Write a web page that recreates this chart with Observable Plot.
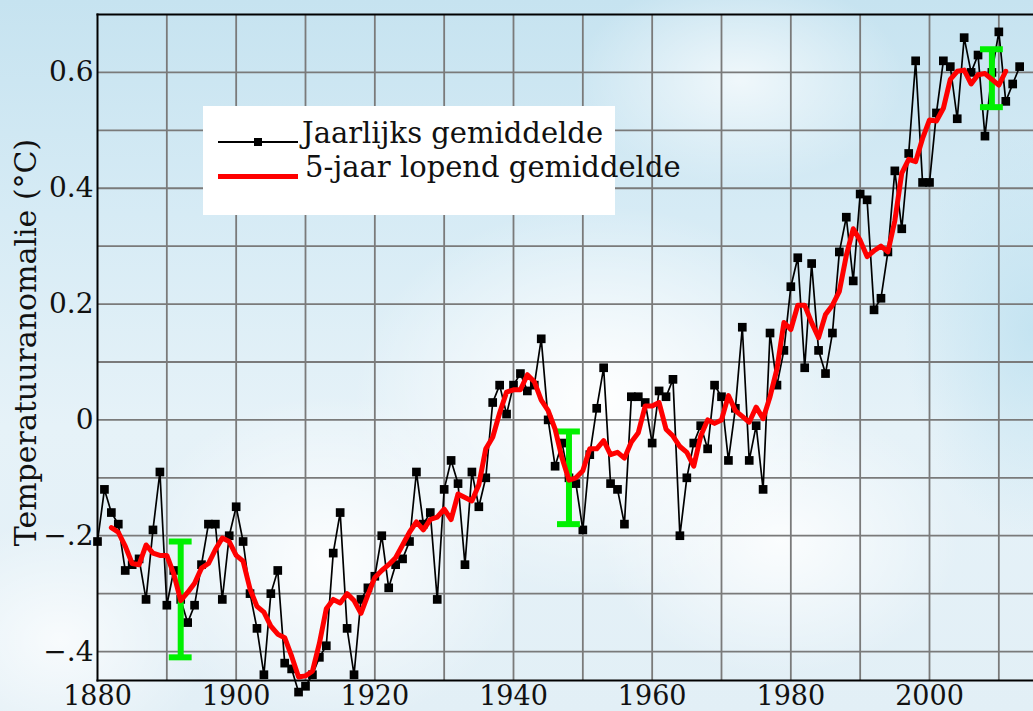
<!DOCTYPE html>
<html><head><meta charset="utf-8">
<script src="https://cdn.jsdelivr.net/npm/d3@7"></script>
<script src="https://cdn.jsdelivr.net/npm/@observablehq/plot@0.6"></script>
<style>
html,body{margin:0;padding:0;}
#wrap{position:relative;width:1033px;height:711px;overflow:hidden;
 background:
  radial-gradient(ellipse 330px 260px at 600px 400px, rgba(255,255,255,0.97), rgba(255,255,255,0) 75%),
  radial-gradient(ellipse 260px 220px at 330px 560px, rgba(255,255,255,0.9), rgba(255,255,255,0) 75%),
  radial-gradient(ellipse 200px 160px at 60px 640px, rgba(255,255,255,0.75), rgba(255,255,255,0) 75%),
  radial-gradient(ellipse 240px 180px at 780px 540px, rgba(255,255,255,0.85), rgba(255,255,255,0) 75%),
  radial-gradient(ellipse 220px 140px at 740px 80px, rgba(255,255,255,0.7), rgba(255,255,255,0) 75%),
  radial-gradient(ellipse 160px 260px at 1033px 330px, rgba(190,225,240,0.8), rgba(190,225,240,0) 80%),
  linear-gradient(180deg, #c6e3f0 0%, #d6ebf5 30%, #e6f2f8 60%, #e2eff6 100%);}
#chart{position:absolute;left:0;top:0;}
#legend{position:absolute;left:203px;top:106px;overflow:visible;}
</style></head><body>
<div id="wrap"><div id="chart"></div>
<svg id="legend" width="500" height="109" font-family="DejaVu Serif">
  <rect x="0" y="0" width="412" height="109" fill="#fff"/>
  <line x1="15" x2="95" y1="36" y2="36" stroke="#000" stroke-width="1.8"/>
  <rect x="51" y="32" width="8" height="8" fill="#000"/>
  <text x="99" y="37" font-size="29" fill="#111">Jaarlijks gemiddelde</text>
  <line x1="15" x2="95" y1="70.5" y2="70.5" stroke="#ff0000" stroke-width="5"/>
  <text x="102" y="71" font-size="29" fill="#111">5-jaar lopend gemiddelde</text>
</svg>
</div>
<script>
const years = [1880,1881,1882,1883,1884,1885,1886,1887,1888,1889,
1890,1891,1892,1893,1894,1895,1896,1897,1898,1899,
1900,1901,1902,1903,1904,1905,1906,1907,1908,1909,
1910,1911,1912,1913,1914,1915,1916,1917,1918,1919,
1920,1921,1922,1923,1924,1925,1926,1927,1928,1929,
1930,1931,1932,1933,1934,1935,1936,1937,1938,1939,
1940,1941,1942,1943,1944,1945,1946,1947,1948,1949,
1950,1951,1952,1953,1954,1955,1956,1957,1958,1959,
1960,1961,1962,1963,1964,1965,1966,1967,1968,1969,
1970,1971,1972,1973,1974,1975,1976,1977,1978,1979,
1980,1981,1982,1983,1984,1985,1986,1987,1988,1989,
1990,1991,1992,1993,1994,1995,1996,1997,1998,1999,
2000,2001,2002,2003,2004,2005,2006,2007,2008,2009,
2010,2011,2012,2013];
const anomalies = [-0.21,-0.12,-0.16,-0.18,-0.26,-0.25,-0.24,-0.31,-0.19,-0.09,
-0.32,-0.26,-0.31,-0.35,-0.32,-0.25,-0.18,-0.18,-0.31,-0.20,
-0.15,-0.21,-0.30,-0.36,-0.44,-0.30,-0.26,-0.42,-0.43,-0.47,
-0.46,-0.44,-0.41,-0.39,-0.23,-0.16,-0.36,-0.44,-0.31,-0.29,
-0.27,-0.20,-0.29,-0.25,-0.24,-0.21,-0.09,-0.18,-0.16,-0.31,
-0.12,-0.07,-0.11,-0.25,-0.09,-0.15,-0.10,0.03,0.06,0.01,
0.06,0.08,0.05,0.06,0.14,0.00,-0.08,-0.04,-0.10,-0.11,
-0.19,-0.06,0.02,0.09,-0.11,-0.12,-0.18,0.04,0.04,0.03,
-0.04,0.05,0.04,0.07,-0.20,-0.10,-0.04,-0.01,-0.05,0.06,
0.04,-0.07,0.02,0.16,-0.07,-0.01,-0.12,0.15,0.06,0.12,
0.23,0.28,0.09,0.27,0.12,0.08,0.15,0.29,0.35,0.24,
0.39,0.38,0.19,0.21,0.29,0.43,0.33,0.46,0.62,0.41,
0.41,0.53,0.62,0.61,0.52,0.66,0.60,0.63,0.49,0.60,
0.67,0.55,0.58,0.61];
const errYears = [1892, 1948, 2009];
const errLow = [-0.41, -0.18, 0.54];
const errHigh = [-0.21, -0.02, 0.64];
const xTicks = [1880,1900,1920,1940,1960,1980,2000];
const xGrid = [1890,1900,1910,1920,1930,1940,1950,1960,1970,1980,1990,2000,2010];
const yTicks = [-0.4,-0.2,0,0.2,0.4,0.6];
const yTickLabels = ["\u2212.4","\u2212.2","0","0.2","0.4","0.6"];
const yGrid = [-0.4,-0.3,-0.2,-0.1,0,0.1,0.2,0.3,0.4,0.5,0.6];
const yLabel = "Temperatuuranomalie (°C)";

const data = years.map((year, i) => ({year, value: anomalies[i]}));
const errs = errYears.map((year, i) => ({year, lo: errLow[i], hi: errHigh[i]}));
const capHalf = 1.65;

const chart = Plot.plot({
  width: 1033, height: 711,
  marginLeft: 97, marginRight: 0, marginTop: 14, marginBottom: 31,
  style: {background: "transparent", fontFamily: "DejaVu Serif", fontSize: "27px", color: "#111", overflow: "visible"},
  x: {domain: [1880, 2015], label: null, axis: null},
  y: {domain: [-0.45, 0.7], label: null, axis: null},
  marks: [
    Plot.gridX(xGrid, {stroke: "#7a7a7a", strokeOpacity: 1, strokeWidth: 1.8}),
    Plot.gridY(yGrid, {stroke: "#7a7a7a", strokeOpacity: 1, strokeWidth: 1.8}),
    Plot.frame({anchor: "left", stroke: "#000", strokeWidth: 2}),
    Plot.frame({anchor: "top", stroke: "#000", strokeWidth: 2}),
    Plot.frame({anchor: "bottom", stroke: "#000", strokeWidth: 2}),
    Plot.axisX(xTicks, {tickFormat: d => String(d), tickSize: 0, tickPadding: 5, fontSize: 27, label: null}),
    Plot.axisY(yTicks, {tickFormat: d => yTickLabels[yTicks.indexOf(d)], tickSize: 0, tickPadding: 4, fontSize: 28, label: null}),
    Plot.text([yLabel], {text: d => d, frameAnchor: "left", textAnchor: "middle", rotate: -90, dx: -71, dy: -5, fontSize: 30, fill: "#111"}),
    Plot.line(data, {x: "year", y: "value", stroke: "#000", strokeWidth: 1.7}),
    Plot.dot(data, {x: "year", y: "value", symbol: "square", r: 4.9, fill: "#000", stroke: "none"}),
    Plot.ruleX(errs, {x: "year", y1: "lo", y2: "hi", stroke: "#00f000", strokeWidth: 6}),
    Plot.ruleY(errs, {y: "lo", x1: d => d.year - capHalf, x2: d => d.year + capHalf, stroke: "#00f000", strokeWidth: 6}),
    Plot.ruleY(errs, {y: "hi", x1: d => d.year - capHalf, x2: d => d.year + capHalf, stroke: "#00f000", strokeWidth: 6}),
    Plot.lineY(data, Plot.windowY({k: 5, anchor: "middle", reduce: "mean", strict: true}, {x: "year", y: "value", stroke: "#ff0000", strokeWidth: 5}))
  ]
});
document.getElementById("chart").appendChild(chart);
</script>
</body></html>
